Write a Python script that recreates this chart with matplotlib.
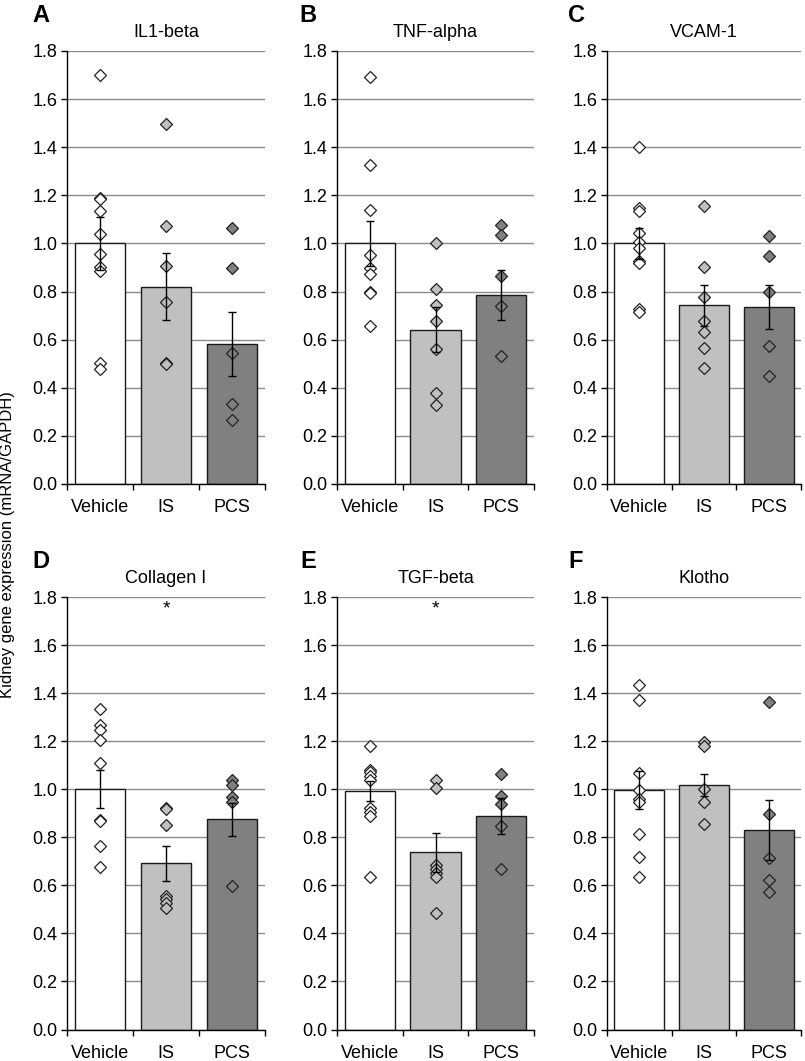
import numpy as np
import matplotlib as mpl
import matplotlib.pyplot as plt

mpl.use('Agg')
plt.rcParams['font.family'] = ['Liberation Sans', 'DejaVu Sans']

groups = ['Vehicle', 'IS', 'PCS']
bar_colors = ['#ffffff', '#c0c0c0', '#808080']
yticks = [0.0, 0.2, 0.4, 0.6, 0.8, 1.0, 1.2, 1.4, 1.6, 1.8]

genes = ['IL1-beta', 'TNF-alpha', 'VCAM-1', 'Collagen I', 'TGF-beta', 'Klotho']
letters = ['A', 'B', 'C', 'D', 'E', 'F']

# bar heights (mean) and error (SEM) per gene: Vehicle, IS, PCS
il1_mean = [1.00, 0.82, 0.58]
il1_sem = [0.111, 0.14, 0.133]
tnf_mean = [1.00, 0.642, 0.785]
tnf_sem = [0.095, 0.092, 0.105]
vcam_mean = [1.00, 0.743, 0.736]
vcam_sem = [0.066, 0.085, 0.092]
col_mean = [1.00, 0.691, 0.874]
col_sem = [0.08, 0.072, 0.068]
tgf_mean = [0.993, 0.738, 0.888]
tgf_sem = [0.04, 0.081, 0.075]
klo_mean = [0.996, 1.017, 0.832]
klo_sem = [0.08, 0.045, 0.125]

# individual animals
il1_pts = [[1.70, 1.19, 1.185, 1.135, 1.04, 0.955, 0.90, 0.885, 0.503, 0.478],
           [1.495, 1.072, 0.906, 0.757, 0.503, 0.497],
           [1.064, 0.899, 0.545, 0.333, 0.268]]
tnf_pts = [[1.692, 1.325, 1.139, 0.95, 0.899, 0.875, 0.80, 0.796, 0.656],
           [1.003, 0.809, 0.746, 0.677, 0.562, 0.379, 0.33],
           [1.075, 1.037, 0.864, 0.742, 0.534]]
vcam_pts = [[1.401, 1.148, 1.135, 1.044, 1.006, 0.979, 0.926, 0.92, 0.728, 0.714],
            [1.155, 0.902, 0.778, 0.677, 0.632, 0.566, 0.483],
            [1.03, 0.947, 0.798, 0.573, 0.451]]
col_pts = [[1.332, 1.269, 1.248, 1.206, 1.109, 0.873, 0.869, 0.763, 0.677],
           [0.922, 0.918, 0.853, 0.555, 0.542, 0.525, 0.504],
           [1.04, 1.019, 0.968, 0.947, 0.597]]
tgf_pts = [[1.18, 1.082, 1.072, 1.054, 1.037, 0.92, 0.906, 0.888, 0.636],
           [1.037, 1.007, 0.684, 0.666, 0.65, 0.633, 0.483],
           [1.065, 0.971, 0.94, 0.846, 0.669]]
klo_pts = [[1.432, 1.37, 1.069, 0.996, 0.961, 0.947, 0.813, 0.716, 0.636],
           [1.197, 1.179, 1.003, 0.947, 0.857],
           [1.363, 0.895, 0.712, 0.622, 0.571]]

all_means = [il1_mean, tnf_mean, vcam_mean, col_mean, tgf_mean, klo_mean]
all_sems = [il1_sem, tnf_sem, vcam_sem, col_sem, tgf_sem, klo_sem]
all_pts = [il1_pts, tnf_pts, vcam_pts, col_pts, tgf_pts, klo_pts]

# significance marks (over IS)
star_genes = ['Collagen I', 'TGF-beta']
star_y = 1.75

W, H = 805, 1061
fig = plt.figure(figsize=(W / 100, H / 100), dpi=100)

col_left = [67, 337, 607]
col_w = [198, 197, 194]
row_top = [51, 597]
row_bot = [484, 1029.5]
letter_x = [41, 308, 576]
letter_y = [15, 562]

for k, gene in enumerate(genes):
    r, c = divmod(k, 3)
    ax = fig.add_axes([col_left[c] / W, 1 - row_bot[r] / H,
                       col_w[c] / W, (row_bot[r] - row_top[r]) / H])
    x = np.arange(len(groups))
    ax.bar(x, all_means[k], width=0.77, color=bar_colors,
           edgecolor='#1a1a1a', linewidth=1.0, zorder=2)
    for i in range(len(groups)):
        pts = all_pts[k][i]
        ax.plot([x[i]] * len(pts), pts, ls='none', marker='D', ms=6,
                mfc=bar_colors[i], mec='#222222', mew=0.9, zorder=3)
    ax.errorbar(x, all_means[k], yerr=all_sems[k], fmt='none', ecolor='black',
                elinewidth=1.0, capsize=3, capthick=1.0, zorder=4)
    if gene in star_genes:
        ax.text(1, star_y, '*', ha='center', va='center', fontsize=14)

    ax.set_xlim(-0.5, 2.5)
    ax.set_ylim(0, 1.8)
    ax.set_yticks(yticks)
    ax.set_yticklabels([f'{t:.1f}' for t in yticks])
    ax.set_xticks(x)
    ax.set_xticklabels(groups)
    ax.set_xticks([-0.5, 0.5, 1.5, 2.5], minor=True)
    ax.tick_params(axis='x', which='major', length=0, pad=11, labelsize=13)
    ax.tick_params(axis='x', which='minor', length=4, width=1, direction='out')
    ax.tick_params(axis='y', length=4, width=1, direction='out', pad=3,
                   labelsize=13)
    ax.yaxis.grid(True, color='#8c8c8c', linewidth=1.0)
    ax.set_axisbelow(True)
    for s in ['top', 'right']:
        ax.spines[s].set_visible(False)
    for s in ['left', 'bottom']:
        ax.spines[s].set_linewidth(1.0)
    ax.set_title(gene, fontsize=13, pad=10)

    fig.text(letter_x[c] / W, 1 - letter_y[r] / H, letters[k],
             fontsize=17, fontweight='bold', ha='center', va='center')

fig.text(8 / W, 1 - 545 / H, 'Kidney gene expression (mRNA/GAPDH)',
         rotation=90, ha='center', va='center', fontsize=12)

fig.savefig('out.png', dpi=100)
